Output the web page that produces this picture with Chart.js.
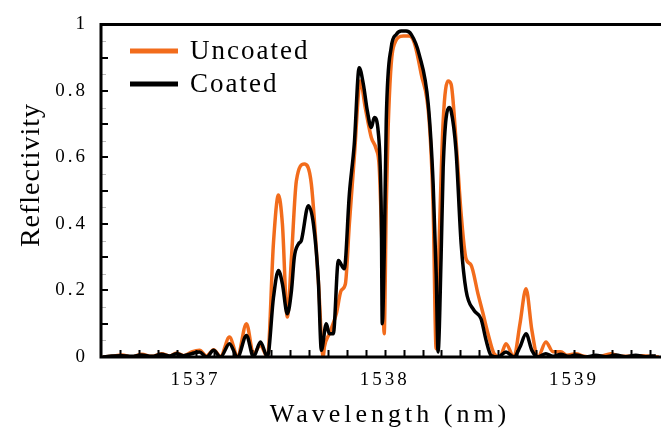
<!DOCTYPE html>
<html>
<head>
<meta charset="utf-8">
<script src="https://cdn.jsdelivr.net/npm/chart.js@4.4.0/dist/chart.umd.min.js"></script>
<style>
  body { margin: 0; background: #fff; }
</style>
</head>
<body>
<canvas id="myChart" width="661" height="432"></canvas>
<script>
// wavelengths (nm) and reflectivity
const wlUncoated = [1536.509, 1536.557, 1536.610, 1536.662, 1536.715, 1536.768, 1536.821, 1536.863, 1536.900, 1536.937,
  1536.979, 1537.021, 1537.058, 1537.095, 1537.132, 1537.179, 1537.222, 1537.269, 1537.306, 1537.343,
  1537.380, 1537.412, 1537.438, 1537.459, 1537.485, 1537.507, 1537.533, 1537.575, 1537.612, 1537.649,
  1537.675, 1537.681, 1537.707, 1537.744, 1537.770, 1537.792, 1537.813, 1537.839, 1537.871, 1537.897,
  1537.929, 1537.955, 1537.971, 1537.987, 1537.997, 1538.008, 1538.018, 1538.045, 1538.098, 1538.129,
  1538.156, 1538.193, 1538.235, 1538.256, 1538.272, 1538.288, 1538.309, 1538.335, 1538.351, 1538.377,
  1538.404, 1538.430, 1538.456, 1538.493, 1538.520, 1538.546, 1538.578, 1538.609, 1538.641, 1538.683,
  1538.715, 1538.747, 1538.778, 1538.810, 1538.852, 1538.889, 1538.931, 1538.963, 1539.011, 1539.047,
  1539.090, 1539.142, 1539.195, 1539.237, 1539.301, 1539.354, 1539.454];
const rUncoated = [0, 0.002, 0.006, 0, 0.008, 0.002, 0.01, 0.003, 0.012, 0.004,
  0.015, 0.02, 0.003, 0.022, 0.002, 0.06, 0.003, 0.10, 0.01, 0.035,
  0, 0.345, 0.487, 0.40, 0.12, 0.30, 0.53, 0.58, 0.52, 0.23,
  0, 0.03, 0.07, 0.13, 0.20, 0.22, 0.40, 0.60, 0.83, 0.75,
  0.66, 0.625, 0.57, 0.30, 0.07, 0.45, 0.69, 0.93, 0.965, 0.965,
  0.945, 0.85, 0.71, 0.45, 0.025, 0.35, 0.71, 0.83, 0.82, 0.65,
  0.43, 0.295, 0.277, 0.19, 0.13, 0.07, 0.01, 0, 0.04, 0,
  0.10, 0.205, 0.08, 0, 0.045, 0.016, 0.016, 0.005, 0.01, 0.003,
  0, 0.002, 0.01, 0.003, 0.002, 0.004, 0];

const wlCoated = [1536.509, 1536.557, 1536.610, 1536.662, 1536.715, 1536.768, 1536.821, 1536.863, 1536.900, 1536.937,
  1536.979, 1537.021, 1537.058, 1537.095, 1537.132, 1537.179, 1537.222, 1537.269, 1537.306, 1537.343,
  1537.380, 1537.412, 1537.438, 1537.459, 1537.485, 1537.507, 1537.522, 1537.544, 1537.559, 1537.596,
  1537.623, 1537.649, 1537.665, 1537.691, 1537.707, 1537.728, 1537.755, 1537.786, 1537.813, 1537.839,
  1537.865, 1537.887, 1537.908, 1537.929, 1537.945, 1537.966, 1537.982, 1537.987, 1537.997, 1538.008,
  1538.034, 1538.061, 1538.087, 1538.113, 1538.140, 1538.182, 1538.230, 1538.256, 1538.272, 1538.282,
  1538.298, 1538.309, 1538.340, 1538.351, 1538.377, 1538.404, 1538.430, 1538.472, 1538.509, 1538.536,
  1538.562, 1538.599, 1538.641, 1538.683, 1538.715, 1538.747, 1538.778, 1538.810, 1538.852, 1538.889,
  1538.931, 1538.974, 1539.011, 1539.063, 1539.116, 1539.169, 1539.222, 1539.274, 1539.327, 1539.380,
  1539.433];
const rCoated = [0, 0.003, 0.004, 0.002, 0.006, 0.002, 0.008, 0.003, 0.01, 0.004,
  0.01, 0.015, 0, 0.02, 0, 0.04, 0, 0.065, 0, 0.045,
  0, 0.18, 0.26, 0.22, 0.13, 0.20, 0.30, 0.34, 0.35, 0.455,
  0.40, 0.23, 0.02, 0.10, 0.07, 0.07, 0.29, 0.265, 0.49, 0.64,
  0.87, 0.82, 0.74, 0.69, 0.72, 0.675, 0.42, 0.10, 0.30, 0.71,
  0.93, 0.97, 0.98, 0.98, 0.97, 0.91, 0.76, 0.52, 0.25, 0.015,
  0.30, 0.57, 0.75, 0.74, 0.62, 0.34, 0.20, 0.14, 0.115, 0.05,
  0.005, 0, 0.015, 0, 0.03, 0.07, 0.02, 0, 0.01, 0.002,
  0.008, 0.002, 0.006, 0, 0.005, 0.001, 0.006, 0.001, 0.005, 0.001,
  0.004];

const seriesNames = ["Uncoated", "Coated"];
const xTicks = [1537, 1538, 1539];
const yTicks = [0, 0.2, 0.4, 0.6, 0.8, 1];

const orange = "#f26c1c";
const serif = "'Liberation Serif', 'Times New Roman', serif";

const toPoints = (xs, ys) => xs.map((x, i) => ({ x: x, y: ys[i] }));

// frame, inward ticks, axis titles and legend
const decor = {
  id: "decor",
  beforeDraw(chart) {
    chart.ctx.letterSpacing = "3px";
  },
  afterDraw(chart) {
    const ctx = chart.ctx;
    const sx = chart.scales.x;
    const sy = chart.scales.y;
    const a = chart.chartArea;
    ctx.save();
    ctx.letterSpacing = "0px";

    // minor ticks
    ctx.lineWidth = 2;
    ctx.strokeStyle = "#000";
    ctx.beginPath();
    for (let k = 15366; k <= 15394; k++) {
      const px = Math.round(sx.getPixelForValue(k / 10)) + 0.5;
      ctx.moveTo(px, a.bottom);
      ctx.lineTo(px, a.bottom - 7);
    }
    for (let k = 1; k < 10; k++) {
      const py = Math.round(sy.getPixelForValue(k / 10));
      ctx.moveTo(a.left, py);
      ctx.lineTo(a.left + 7, py);
    }
    ctx.stroke();
    ctx.strokeStyle = "#bbb";
    ctx.lineWidth = 1;
    ctx.beginPath();
    for (let k = 0; k < 10; k++) {
      const py = Math.round(sy.getPixelForValue(k / 10 + 0.05)) + 0.5;
      ctx.moveTo(a.left, py);
      ctx.lineTo(a.left + 5, py);
    }
    ctx.stroke();

    // frame
    ctx.strokeStyle = "#000";
    ctx.lineWidth = 3;
    ctx.beginPath();
    ctx.moveTo(a.left - 1.5, a.top);
    ctx.lineTo(chart.width, a.top);
    ctx.moveTo(a.left, a.top);
    ctx.lineTo(a.left, a.bottom);
    ctx.moveTo(a.left - 1.5, a.bottom);
    ctx.lineTo(chart.width, a.bottom);
    ctx.stroke();

    // axis titles
    ctx.fillStyle = "#000";
    ctx.textAlign = "center";
    ctx.textBaseline = "middle";
    ctx.font = "26px " + serif;
    ctx.letterSpacing = "4px";
    ctx.fillText("Wavelength (nm)", 390, 415);
    ctx.save();
    ctx.translate(32, 175);
    ctx.rotate(-Math.PI / 2);
    ctx.font = "28px " + serif;
    ctx.letterSpacing = "1px";
    ctx.fillText("Reflectivity", 0, 0);
    ctx.restore();

    // legend
    const colors = [orange, "#000"];
    const rows = [51, 84];
    ctx.font = "27px " + serif;
    ctx.letterSpacing = "2px";
    ctx.textAlign = "left";
    ctx.textBaseline = "alphabetic";
    seriesNames.forEach((name, i) => {
      ctx.strokeStyle = colors[i];
      ctx.lineWidth = 5;
      ctx.beginPath();
      ctx.moveTo(130, rows[i]);
      ctx.lineTo(178, rows[i]);
      ctx.stroke();
      ctx.fillText(name, 190, rows[i] + 8);
    });
    ctx.restore();
  },
};

const ctx = document.getElementById("myChart").getContext("2d");
const myChart = new Chart(ctx, {
  type: "line",
  data: {
    datasets: [
      {
        label: seriesNames[0],
        data: toPoints(wlUncoated, rUncoated),
        borderColor: orange,
        borderWidth: 3.5,
        pointRadius: 0,
        cubicInterpolationMode: "monotone",
        order: 2,
      },
      {
        label: seriesNames[1],
        data: toPoints(wlCoated, rCoated),
        borderColor: "#000",
        borderWidth: 3.5,
        pointRadius: 0,
        cubicInterpolationMode: "monotone",
        order: 1,
      },
    ],
  },
  options: {
    responsive: false,
    animation: false,
    layout: { padding: { top: 18, right: 2, left: 0, bottom: 0 } },
    plugins: { legend: { display: false }, tooltip: { enabled: false } },
    scales: {
      x: {
        type: "linear",
        min: 1536.5,
        max: 1539.45,
        afterFit: (s) => { s.height = 75; },
        afterBuildTicks: (s) => { s.ticks = xTicks.map((v) => ({ value: v })); },
        grid: { display: false, drawTicks: false },
        border: { display: false },
        ticks: { color: "#000", font: { family: serif, size: 19 }, padding: 12, maxRotation: 0,
          callback: (v) => String(v) },
      },
      y: {
        min: 0,
        max: 1,
        afterFit: (s) => { s.width = 101; },
        afterBuildTicks: (s) => { s.ticks = yTicks.map((v) => ({ value: v })); },
        grid: { display: false, drawTicks: false },
        border: { display: false },
        ticks: { color: "#000", font: { family: serif, size: 19 }, padding: 13,
          callback: (v) => String(v) },
      },
    },
  },
  plugins: [decor],
});
</script>
</body>
</html>
